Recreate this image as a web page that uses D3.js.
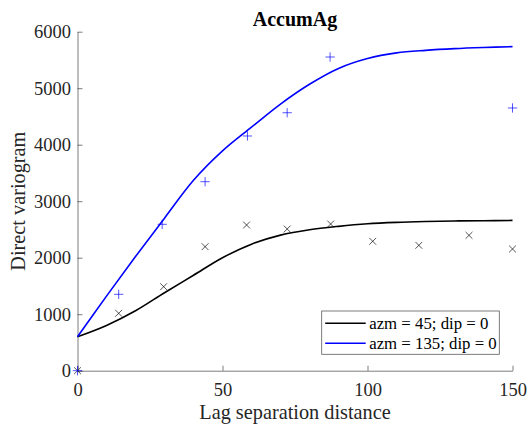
<!DOCTYPE html>
<html>
<head>
<meta charset="utf-8">
<script src="https://cdn.jsdelivr.net/npm/d3@7"></script>
<style>
  body { margin: 0; background: #fff; }
  svg { display: block; }
  svg text { font-family: "Liberation Serif", "Times New Roman", serif; }
</style>
</head>
<body>
<svg id="chart"></svg>
<script>
// experimental variogram points, azm = 45
const lag45 = [0, 14.2, 29.7, 44, 58.3, 72.3, 87.3, 101.8, 117.7, 135, 150];
const gamma45 = [0, 1016, 1487, 2195, 2579, 2508, 2596, 2290, 2219, 2396, 2154];

// experimental variogram points, azm = 135
const lag135 = [0, 14.2, 29.2, 44, 58.6, 72.3, 87.1, 150];
const gamma135 = [0, 1352, 2591, 3345, 4154, 4566, 5552, 4650];

// fitted model curves
const modelLag = [0, 10, 20, 30, 40, 50, 60, 70, 80, 90, 100, 110, 120, 130, 140, 150];
const model45 = [600, 800, 1060, 1380, 1690, 2000, 2240, 2400, 2495, 2555, 2600, 2625, 2640, 2650, 2655, 2660];
const model135 = [600, 1320, 2020, 2700, 3370, 3890, 4310, 4720, 5070, 5350, 5525, 5625, 5670, 5700, 5720, 5735];

const legendLabels = ["azm = 45; dip = 0", "azm = 135; dip = 0"];
const xTicks = [0, 50, 100, 150];
const yTicks = [0, 1000, 2000, 3000, 4000, 5000, 6000];

const w = 531;
const h = 428;
const m = { left: 77.5, right: 512.5, top: 31.7, bottom: 370.7 };

const svg = d3.select("#chart").attr("width", w).attr("height", h);

const x = d3.scaleLinear().domain([0, 150]).range([m.left, m.right]);
const y = d3.scaleLinear().domain([0, 6000]).range([m.bottom, m.top]);

const axisColor = "#262626";

const xAxis = svg.append("g")
  .attr("transform", `translate(0,${m.bottom})`)
  .call(d3.axisBottom(x).tickValues(xTicks).tickFormat(d3.format("d"))
    .tickSizeInner(-5).tickSizeOuter(0).tickPadding(12));
const yAxis = svg.append("g")
  .attr("transform", `translate(${m.left},0)`)
  .call(d3.axisLeft(y).tickValues(yTicks).tickFormat(d3.format("d"))
    .tickSizeInner(-5).tickSizeOuter(0).tickPadding(6.5));

[xAxis, yAxis].forEach((g) => {
  g.attr("font-family", null).attr("font-size", null);
  g.selectAll("path, line").attr("stroke", axisColor).attr("stroke-width", 0.8).attr("stroke-opacity", 0.75);
  g.selectAll("text").attr("fill", axisColor).style("font-size", "18.5px");
});

// model curves
const line = d3.line().x((d) => x(d[0])).y((d) => y(d[1])).curve(d3.curveCatmullRom);
const curves = [
  { values: model45, color: "#000000" },
  { values: model135, color: "#0000ff" },
];
svg.selectAll(".model")
  .data(curves)
  .enter()
  .append("path")
  .attr("class", "model")
  .attr("fill", "none")
  .attr("stroke", (d) => d.color)
  .attr("stroke-width", 1.6)
  .attr("d", (d) => line(modelLag.map((l, i) => [l, d.values[i]])));

// experimental points
const times = d3.symbol().type(d3.symbolTimes).size(32);
const plus = d3.symbol().type(d3.symbolPlus).size(30);

svg.selectAll(".pt45")
  .data(lag45.map((l, i) => [l, gamma45[i]]))
  .enter()
  .append("path")
  .attr("class", "pt45")
  .attr("d", times)
  .attr("transform", (d) => `translate(${x(d[0])},${y(d[1])})`)
  .attr("fill", "none")
  .attr("stroke", "#000")
  .attr("stroke-opacity", 0.75)
  .attr("stroke-width", 0.9);

svg.selectAll(".pt135")
  .data(lag135.map((l, i) => [l, gamma135[i]]))
  .enter()
  .append("path")
  .attr("class", "pt135")
  .attr("d", plus)
  .attr("transform", (d) => `translate(${x(d[0])},${y(d[1])})`)
  .attr("fill", "none")
  .attr("stroke", "#0000ff")
  .attr("stroke-opacity", 0.75)
  .attr("stroke-width", 0.9);

// title and axis labels
svg.append("text")
  .attr("x", (m.left + m.right) / 2)
  .attr("y", 26)
  .attr("text-anchor", "middle")
  .style("font-size", "20px")
  .style("font-weight", "bold")
  .text("AccumAg");

svg.append("text")
  .attr("x", (m.left + m.right) / 2)
  .attr("y", 419)
  .attr("text-anchor", "middle")
  .attr("fill", axisColor)
  .style("font-size", "20.3px")
  .text("Lag separation distance");

svg.append("text")
  .attr("transform", `translate(25,${(m.top + m.bottom) / 2}) rotate(-90)`)
  .attr("text-anchor", "middle")
  .attr("fill", axisColor)
  .style("font-size", "20.3px")
  .text("Direct variogram");

// legend
const legend = svg.append("g").attr("transform", "translate(321.7,311)");
legend.append("rect")
  .attr("width", 177.6)
  .attr("height", 43.3)
  .attr("fill", "#fff")
  .attr("stroke", axisColor)
  .attr("stroke-opacity", 0.75)
  .attr("stroke-width", 0.8);

const items = legend.selectAll(".legend-item")
  .data(legendLabels.map((t, i) => ({ text: t, color: curves[i].color })))
  .enter()
  .append("g")
  .attr("class", "legend-item")
  .attr("transform", (d, i) => `translate(0,${12.3 + i * 20})`);

items.append("line")
  .attr("x1", 3.5)
  .attr("x2", 44)
  .attr("stroke", (d) => d.color)
  .attr("stroke-width", 1.6);

items.append("text")
  .attr("x", 47.5)
  .attr("dy", "0.33em")
  .style("font-size", "16.8px")
  .text((d) => d.text);
</script>
</body>
</html>
